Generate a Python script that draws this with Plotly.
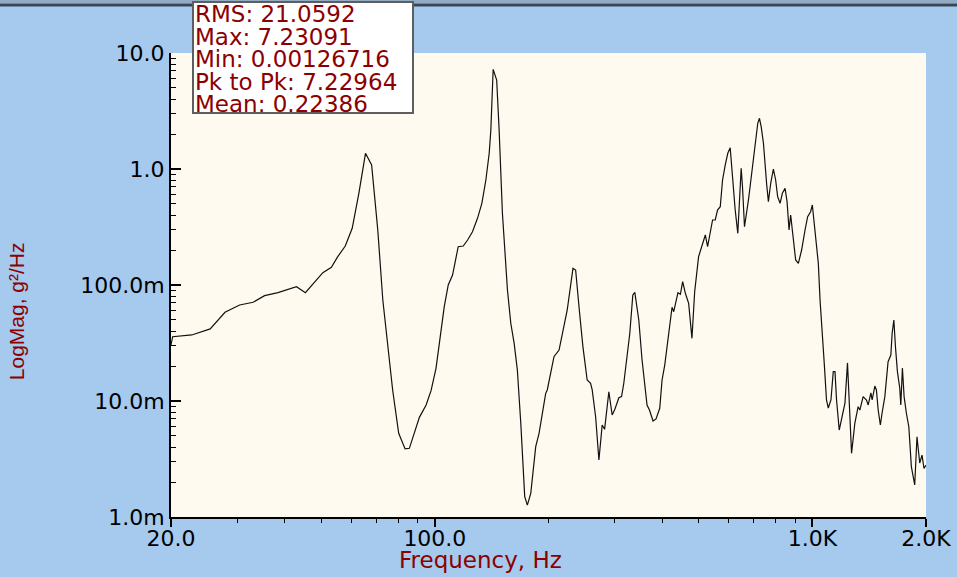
import math
import plotly.graph_objects as go

# ---------------- data ----------------
freq_hz = [
    20, 20.2, 22.7, 25.4, 27.8, 30.4, 33.0, 35.4, 38.4, 43.0,
    45.4, 48.0, 50.5, 53.2, 55.3, 57.9, 60.4, 62.9, 65.5, 68.0,
    70.6, 72.8, 75.0, 77.3, 80.2, 83.4, 85.6, 88.2, 91.0, 94.8,
    97.7, 100.7, 103.2, 105.9, 108.5, 111.4, 115.3, 118.9, 122.1, 125.8,
    129.7, 133.2, 136.5, 139.3, 140.7, 142.7, 145.8, 148.0, 151.0, 155.7,
    158.9, 162.2, 165.4, 168.9, 173.0, 175.8, 179.5, 185.0, 188.8, 196.6,
    198.5, 206.8, 213.3, 224.2, 232.2, 236.0, 241.8, 246.7, 253.2, 258.5,
    261.1, 266.6, 272.0, 277.5, 281.6, 289.0, 294.9, 299.8, 307.2, 312.3,
    316.6, 324.4, 328.4, 334.5, 338.6, 346.9, 353.9, 364.8, 370.2, 378.4,
    385.4, 394.2, 399.8, 406.4, 412.2, 418.2, 424.9, 429.3, 435.2, 440.5,
    447.1, 453.4, 460.9, 470.2, 479.8, 487.8, 499.6, 509.8, 520.5, 527.8,
    536.6, 544.1, 553.0, 560.8, 570.2, 578.2, 587.8, 597.0, 605.8, 614.4,
    624.6, 634.6, 647.8, 653.0, 661.0, 677.2, 686.8, 698.2, 705.4, 716.8,
    724.2, 731.8, 742.0, 749.6, 757.0, 764.8, 775.6, 788.4, 799.4, 809.2,
    821.2, 832.8, 846.6, 857.0, 867.4, 876.0, 890.6, 903.2, 918.2, 936.6,
    956.4, 971.6, 989.4, 999.8, 1005, 1020, 1037, 1048, 1062, 1075,
    1090, 1102, 1120, 1136, 1148, 1159, 1178, 1195, 1220, 1239,
    1257, 1270, 1296, 1322, 1336, 1363, 1391, 1406, 1429, 1440,
    1464, 1478, 1494, 1514, 1530, 1556, 1587, 1614, 1627, 1644,
    1660, 1680, 1704, 1715, 1732, 1750, 1774, 1801, 1829, 1867,
    1893, 1925, 1952, 1976, 2000,
]
psd_g2hz = [
    0.0304, 0.0358, 0.0371, 0.0418, 0.0582, 0.0673, 0.0710, 0.0809, 0.0859, 0.0966,
    0.0859, 0.1067, 0.1276, 0.1422, 0.1754, 0.2168, 0.308, 0.617, 1.366, 1.083,
    0.298, 0.0743, 0.0294, 0.01245, 0.00527, 0.00386, 0.00391, 0.00527, 0.00723, 0.00924,
    0.01227, 0.01914, 0.0358, 0.0650, 0.100, 0.1219, 0.2138, 0.2168, 0.2443, 0.288,
    0.3758, 0.506, 0.804, 1.366, 2.168, 7.23091, 5.85, 2.168, 0.415, 0.0906,
    0.0468, 0.0314, 0.0185, 0.00643, 0.0015, 0.00126716, 0.0016, 0.00404, 0.00527, 0.01164,
    0.01245, 0.0241, 0.0275, 0.0609, 0.1393, 0.1347, 0.0570, 0.0294, 0.01517, 0.01422,
    0.01245, 0.00732, 0.0031, 0.00621, 0.0057, 0.01202, 0.00757, 0.00848, 0.01067, 0.0109,
    0.01422, 0.0294, 0.0384, 0.082, 0.0865, 0.0499, 0.02256, 0.00924, 0.00836, 0.00673,
    0.0070, 0.00865, 0.01517, 0.0204, 0.0294, 0.0384, 0.0643, 0.0589, 0.0710, 0.0859,
    0.0832, 0.1067, 0.0848, 0.0695, 0.0347, 0.0875, 0.1754, 0.2138, 0.270, 0.2138,
    0.279, 0.3634, 0.3634, 0.443, 0.473, 0.804, 1.083, 1.366, 1.526, 0.859,
    0.443, 0.279, 1.014, 0.704, 0.318, 0.541, 0.804, 1.196, 1.667, 2.477,
    2.735, 2.316, 1.667, 1.047, 0.728, 0.523, 0.753, 1.0, 0.804, 0.577,
    0.506, 0.617, 0.682, 0.523, 0.298, 0.401, 0.2288, 0.1643, 0.1538, 0.2003,
    0.298, 0.388, 0.4285, 0.4895, 0.415, 0.2443, 0.1538, 0.0743, 0.0409, 0.0213,
    0.0102, 0.0087, 0.0102, 0.0179, 0.0179, 0.0102, 0.00562, 0.00686, 0.0096, 0.0213,
    0.00732, 0.00354, 0.00646, 0.00893, 0.00836, 0.0109, 0.0102, 0.00924, 0.01173, 0.0102,
    0.01346, 0.01245, 0.00836, 0.00621, 0.00788, 0.0109, 0.0218, 0.0249, 0.0386, 0.0499,
    0.0294, 0.0179, 0.01294, 0.00924, 0.0192, 0.0109, 0.00788, 0.0060, 0.00272, 0.00189,
    0.00492, 0.00292, 0.00342, 0.00262, 0.0028,
]

x_tick_vals = [20, 100, 1000, 2000]
x_tick_text = ["20.0", "100.0", "1.0K", "2.0K"]
x_minor_vals = [30, 40, 50, 60, 70, 80, 90, 200, 300, 400, 500, 600, 700, 800, 900]
y_tick_vals = [0.001, 0.01, 0.1, 1, 10]
y_tick_text = ["1.0m", "10.0m", "100.0m", "1.0", "10.0"]
y_minor_vals = [0.002, 0.003, 0.004, 0.005, 0.006, 0.007, 0.008, 0.009,
                0.02, 0.03, 0.04, 0.05, 0.06, 0.07, 0.08, 0.09,
                0.2, 0.3, 0.4, 0.5, 0.6, 0.7, 0.8, 0.9,
                2, 3, 4, 5, 6, 7, 8, 9]

stat_names = ["RMS", "Max", "Min", "Pk to Pk", "Mean"]
stat_values = ["21.0592", "7.23091", "0.00126716", "7.22964", "0.22386"]

x_title = "Frequency, Hz"
y_title = "LogMag, g\u00b2/Hz"

# ---------------- layout geometry ----------------
W, H = 957, 577
L, R, T, B = 171, 926, 53, 517


def px(x):
    return (x - L) / (R - L)


def py(y):
    return (B - y) / (B - T)


DARKRED = "#8B0000"
TICKFONT = dict(family="DejaVu Sans", size=22, color="black")

fig = go.Figure()
fig.add_trace(go.Scatter(
    x=freq_hz, y=psd_g2hz, mode="lines",
    line=dict(color="#111111", width=1.2),
    hoverinfo="x+y",
))

fig.update_layout(
    width=W, height=H,
    margin=dict(l=L, r=W - R, t=T, b=H - B, pad=0, autoexpand=False),
    paper_bgcolor="#A6C9EE",
    plot_bgcolor="#FFFAF0",
    showlegend=False,
    xaxis=dict(
        type="log", range=[math.log10(20), math.log10(2000)],
        tickvals=x_tick_vals, ticktext=x_tick_text,
        ticks="outside", ticklen=8, tickwidth=1.5, tickcolor="black",
        showline=True, linecolor="black", linewidth=2,
        showgrid=False, zeroline=False, tickfont=TICKFONT,
        ticklabelstandoff=-7, automargin=False,
        minor=dict(tickvals=x_minor_vals, ticks="outside", ticklen=4,
                   tickwidth=1.2, tickcolor="black", showgrid=False),
    ),
    yaxis=dict(
        type="log", range=[-3, 1],
        tickvals=y_tick_vals, ticktext=y_tick_text,
        ticks="inside", ticklen=10, tickwidth=1.5, tickcolor="black",
        showline=True, linecolor="black", linewidth=2,
        showgrid=False, zeroline=False, tickfont=TICKFONT,
        automargin=False,
        minor=dict(tickvals=y_minor_vals, ticks="inside", ticklen=5,
                   tickwidth=1.2, tickcolor="black", showgrid=False),
    ),
)

shapes = [
    # top window rule
    dict(type="line", xref="paper", yref="paper",
         x0=px(0), x1=px(W), y0=py(1.5), y1=py(1.5),
         line=dict(color="#93AAC4", width=3)),
    dict(type="line", xref="paper", yref="paper",
         x0=px(0), x1=px(W), y0=py(5), y1=py(5),
         line=dict(color="#3A4654", width=3)),
    # statistics box
    dict(type="rect", xref="paper", yref="paper",
         x0=px(193), x1=px(413), y0=py(113), y1=py(2),
         fillcolor="white", line=dict(color="#5E5E5E", width=2),
         layer="above"),
]
fig.update_layout(shapes=shapes)

annotations = []
line_centers = [14.2, 36.8, 59.2, 81.8, 104.2]
for name, val, yc in zip(stat_names, stat_values, line_centers):
    annotations.append(dict(
        xref="paper", yref="paper", x=px(194), y=py(yc),
        xanchor="left", yanchor="middle", showarrow=False,
        text=f"{name}: {val}", borderpad=0,
        font=dict(family="DejaVu Sans", size=23, color=DARKRED),
    ))
annotations.append(dict(
    xref="paper", yref="paper", x=px(480), y=py(560),
    xanchor="center", yanchor="middle", showarrow=False,
    text=x_title, font=dict(family="DejaVu Sans", size=23, color=DARKRED),
))
annotations.append(dict(
    xref="paper", yref="paper", x=px(16.5), y=py(311.7),
    xanchor="center", yanchor="middle", showarrow=False, textangle=-90,
    text=y_title, font=dict(family="Liberation Sans", size=21, color=DARKRED),
))
fig.update_layout(annotations=annotations)

fig.write_html(
    "out.html",
    config={"displayModeBar": False},
    post_script="document.body.style.margin='0';document.body.style.padding='0';",
)
